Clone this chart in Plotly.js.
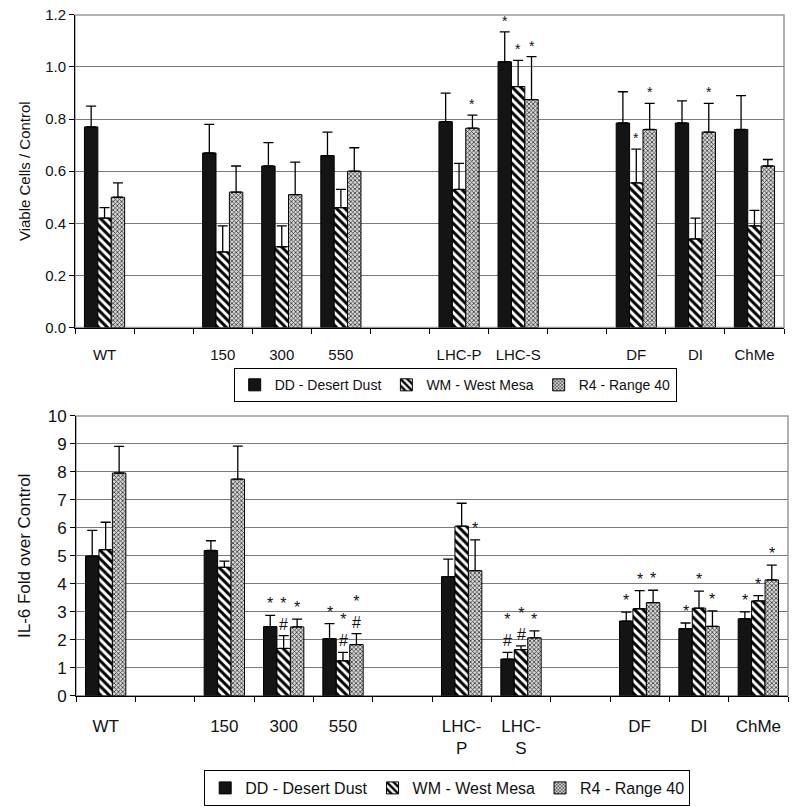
<!DOCTYPE html>
<html><head><meta charset="utf-8">
<script src="https://cdn.plot.ly/plotly-3.0.1.min.js"></script>
<style>html,body{margin:0;padding:0;background:#fff}</style>
</head><body><div id="chart" style="width:800px;height:806px"></div>
<script>
// ---------- DATA ----------
const categories = ["WT","","150","300","550","","LHC-P","LHC-S","","DF","DI","ChMe"];
const tickLabelsTop = ["WT","","150","300","550","","LHC-P","LHC-S","","DF","DI","ChMe"];
const tickLabelsBottom = ["WT","","150","300","550","","LHC-<br>P","LHC-<br>S","","DF","DI","ChMe"];
const seriesNames = ["DD - Desert Dust","WM - West Mesa","R4 - Range 40"];

// Top: viable cells / control
const viableDD    = [0.77,null,0.67,0.62,0.66,null,0.79,1.02,null,0.785,0.785,0.76];
const viableDDErr = [0.08,null,0.11,0.09,0.09,null,0.11,0.115,null,0.12,0.085,0.13];
const viableWM    = [0.42,null,0.29,0.31,0.46,null,0.53,0.925,null,0.555,0.34,0.39];
const viableWMErr = [0.04,null,0.10,0.08,0.07,null,0.10,0.10,null,0.13,0.08,0.06];
const viableR4    = [0.50,null,0.52,0.51,0.60,null,0.765,0.875,null,0.76,0.75,0.62];
const viableR4Err = [0.055,null,0.10,0.125,0.09,null,0.05,0.165,null,0.10,0.11,0.025];
const viableSigDD = ["","","","","","","","*","","","",""];
const viableSigWM = ["","","","","","","","*","","*","",""];
const viableSigR4 = ["","","","","","","*","*","","*","*",""];

// Bottom: IL-6 fold over control
const il6DD    = [4.99,null,5.19,2.47,2.04,null,4.26,1.31,null,2.67,2.40,2.75];
const il6DDErr = [0.92,null,0.35,0.40,0.54,null,0.62,0.24,null,0.32,0.20,0.25];
const il6WM    = [5.22,null,4.59,1.69,1.25,null,6.06,1.65,null,3.11,3.13,3.39];
const il6WMErr = [0.98,null,0.22,0.46,0.30,null,0.82,0.13,null,0.65,0.61,0.19];
const il6R4    = [7.96,null,7.74,2.46,1.83,null,4.47,2.07,null,3.33,2.48,4.14];
const il6R4Err = [0.95,null,1.18,0.28,0.39,null,1.10,0.25,null,0.44,0.55,0.53];
const il6SigDD = ["","","","*","*","","","*#","","*","*","*"];
const il6SigWM = ["","","","*#","*#","","","*#","","*","*","*"];
const il6SigR4 = ["","","","*","*#","","*","*","","*","*","*"];

// ---------- STYLE ----------
const FONT = "Liberation Sans, Arial, sans-serif";
const markers = [
  {color:"#141414", line:{color:"#000",width:1}},
  {color:"#ffffff", line:{color:"#000",width:1},
   pattern:{shape:"\\", fgcolor:"#000", bgcolor:"#fff", size:6, solidity:0.5}},
  {color:"#9a9a9a", line:{color:"#000",width:1},
   pattern:{shape:"x", fgcolor:"#333", bgcolor:"#d8d8d8", size:3, solidity:0.45}}
];
const BARGAP = 0.32;
const xIdx = categories.map((c,i)=>i);

function mkTraces(vals, errs, xa, ya, legend) {
  return vals.map((v,k)=>({
    type:"bar", x:xIdx.slice(), y:v.slice(), name:seriesNames[k],
    xaxis:xa, yaxis:ya, legend:legend, marker:markers[k],
    error_y:{type:"data", array:errs[k].slice(), arrayminus:errs[k].map(()=>0), symmetric:false,
             color:"#000", thickness:1.3, width:5},
    hoverinfo:"skip"
  }));
}

const topVals=[viableDD,viableWM,viableR4], topErrs=[viableDDErr,viableWMErr,viableR4Err], topSig=[viableSigDD,viableSigWM,viableSigR4];
const botVals=[il6DD,il6WM,il6R4], botErrs=[il6DDErr,il6WMErr,il6R4Err], botSig=[il6SigDD,il6SigWM,il6SigR4];

const traces = [...mkTraces(topVals, topErrs, "x","y","legend"),
                ...mkTraces(botVals, botErrs, "x2","y2","legend2")];

const W=800,H=806;
const dTopX=[0.09375,0.98], dTopY=[0.5906,0.9814];
const dBotX=[0.095,0.985], dBotY=[0.1303,0.4801];

function sigAnnots(vals, errs, sigs, xref, yref, dom, fs) {
  const slot = (dom[1]-dom[0])*W/categories.length;
  const bw = slot*(1-BARGAP)/3;
  const out=[];
  sigs.forEach((arr,k)=>arr.forEach((s,i)=>{
    if(!s) return;
    const txt = s==="*#" ? "*<br>#" : s;
    out.push({x:xIdx[i], y:vals[k][i]+errs[k][i], xref:xref, yref:yref,
      xshift:(k-1)*bw, yshift:1, yanchor:"bottom", showarrow:false, text:txt,
      font:{family:FONT,size:fs,color:"#111"}});
  }));
  return out;
}

const annotations = [
  ...sigAnnots(topVals, topErrs, topSig, "x","y", dTopX, 14),
  ...sigAnnots(botVals, botErrs, botSig, "x2","y2", dBotX, 16)
];

const bounds = categories.concat([""]).map((c,i)=>i-0.5);
const gridCol="#7a7a7a";
function xAxis(dom, anchor, labels, fs, standoff){
  return {domain:dom, anchor:anchor, type:"linear", range:[-0.5, categories.length-0.5],
    tickmode:"array", tickvals:xIdx, ticktext:labels, ticks:"",
    minor:{tickmode:"array", tickvals:bounds, ticks:"outside", ticklen:5, tickcolor:"#000", showgrid:false},
    showline:true, linecolor:"#000", linewidth:1, showgrid:false, zeroline:false,
    ticklabelstandoff:standoff, tickfont:{size:fs}, automargin:false};
}
const layout = {
  width:W, height:H, margin:{l:0,r:0,t:0,b:0},
  paper_bgcolor:"#fff", plot_bgcolor:"#fff",
  font:{family:FONT, color:"#111"},
  barmode:"group", bargap:BARGAP, bargroupgap:0,
  xaxis:xAxis(dTopX,"y",tickLabelsTop,15,13),
  yaxis:{domain:dTopY, anchor:"x", range:[0,1.2], tickvals:[0,0.2,0.4,0.6,0.8,1.0,1.2],
    ticktext:["0.0","0.2","0.4","0.6","0.8","1.0","1.2"],
    ticks:"outside", ticklen:5, tickcolor:"#000", showline:true, linecolor:"#000", linewidth:1,
    gridcolor:gridCol, gridwidth:1, zeroline:false, tickfont:{size:15}, automargin:false,
    title:{text:"Viable Cells / Control", font:{size:15}, standoff:10}},
  xaxis2:xAxis(dBotX,"y2",tickLabelsBottom,17,15),
  yaxis2:{domain:dBotY, anchor:"x2", range:[0,10], dtick:1,
    ticks:"outside", ticklen:5, tickcolor:"#000", showline:true, linecolor:"#000", linewidth:1,
    gridcolor:gridCol, gridwidth:1, zeroline:false, tickfont:{size:17}, automargin:false,
    title:{text:"IL-6 Fold over Control", font:{size:17}, standoff:12}},
  legend:{orientation:"h", x:0.569, xanchor:"center", y:0.5397, yanchor:"top",
    bordercolor:"#000", borderwidth:1, font:{size:14}, itemwidth:30, tracegroupgap:0,
    itemclick:false},
  legend2:{orientation:"h", x:0.559, xanchor:"center", y:0.0372, yanchor:"top",
    bordercolor:"#000", borderwidth:1, font:{size:16}, itemwidth:30, tracegroupgap:0,
    itemclick:false},
  shapes:[
    {type:"rect", xref:"x domain", yref:"y domain", x0:0,x1:1,y0:0,y1:1, line:{color:"#999",width:1.5}, layer:"below"},
    {type:"rect", xref:"x2 domain", yref:"y2 domain", x0:0,x1:1,y0:0,y1:1, line:{color:"#999",width:1.5}, layer:"below"}
  ],
  annotations:annotations
};

Plotly.newPlot("chart", traces, layout, {staticPlot:true});
</script></body></html>
